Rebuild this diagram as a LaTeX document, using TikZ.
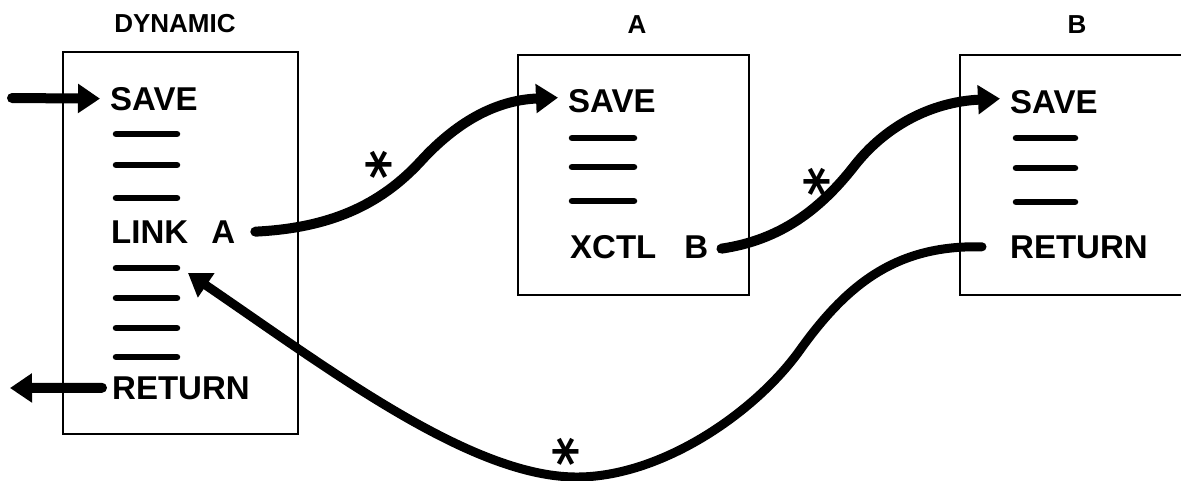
\documentclass[tikz,border=0pt]{standalone}
\usepackage{fontspec}
\setmainfont{Liberation Sans}
\newfontfamily\starfont{DejaVu Sans}
\usetikzlibrary{arrows.meta,calc}
\begin{document}
\begin{tikzpicture}[x=1pt,y=-1pt,
  lbl/.style={font=\bfseries\fontsize{33}{33}\selectfont, inner sep=0pt, anchor=base west},
  ttl/.style={font=\bfseries\fontsize{26}{26}\selectfont, inner sep=0pt, anchor=base},
  boxframe/.style={draw, line width=2.5pt, inner sep=0pt},
  dashbar/.style={line width=6.5pt, line cap=round},
  flowarrow/.style={line width=10pt, line cap=round, -{Triangle[length=22pt,width=28pt]}},
  starlbl/.style={font=\starfont\bfseries\fontsize{56}{56}\selectfont, inner sep=0pt, rotate=90},
]
\useasboundingbox (0,0) rectangle (1181,480);
\clip (0,0) rectangle (1181,480);

% boxes
\node[boxframe, minimum width=235pt, minimum height=382pt] (boxD) at (180.5,243) {};
\node[boxframe, minimum width=231pt, minimum height=240pt] (boxA) at (633.5,175) {};
\node[boxframe, minimum width=240pt, minimum height=240pt] (boxB) at (1080,175) {};

% titles
\node[ttl] (tD) at (175,32) {DYNAMIC};
\node[ttl] (tA) at (637,33) {A};
\node[ttl] (tB) at (1077,33) {B};

% DYNAMIC contents
\node[lbl] (saveD) at (110,110) {SAVE};
\node[lbl] (linkA) at (111,243) {LINK\hspace{0.7em}A};
\node[lbl] (retD) at (112,399) {RETURN};
\foreach \yy in {134,165,198,268,298,328,357}
  \draw[dashbar] (116,\yy) -- (177,\yy);

% A contents
\node[lbl] (saveA) at (568,112) {SAVE};
\node[lbl] (xctlB) at (570,258) {XCTL\hspace{0.85em}B};
\foreach \yy in {138,167,201}
  \draw[dashbar] (572,\yy) -- (634,\yy);

% B contents
\node[lbl] (saveB) at (1010,113) {SAVE};
\node[lbl] (retB) at (1010,258) {RETURN};
\foreach \yy in {138,168,202}
  \draw[dashbar] (1016,\yy) -- (1075,\yy);

% entry / exit
\coordinate (inD) at (12,98);
\coordinate (outD) at (10,388);
\coordinate (backD) at (188,273);
\draw[flowarrow] (inD) -- ([xshift=-10pt]saveD.west);
\draw[flowarrow] ([xshift=-10pt]retD.west) -- (outD);

% LINK A -> SAVE (A)
\draw[flowarrow] ([xshift=20pt]linkA.east) .. controls (330,228) and (380,205) .. (420,162)
   .. controls (460,118) and (500,100) .. ([xshift=-10pt,yshift=3pt]saveA.west);
% XCTL B -> SAVE (B)
\draw[flowarrow] ([xshift=13pt,yshift=-2pt]xctlB.east) .. controls (780,240) and (820,210) .. (855,165)
   .. controls (885,127) and (930,102) .. ([xshift=-10pt,yshift=3pt]saveB.west);
% RETURN (B) -> DYNAMIC
\draw[flowarrow, line width=9pt] ([xshift=-28pt]retB.west) .. controls (900,245) and (850,280) .. (800,350)
   .. controls (755,413) and (660,478) .. (575,477)
   .. controls (470,476) and (330,370) .. (backD);

% stars
\node[starlbl] (s1) at (387,165) {*};
\node[starlbl] (s2) at (825,182) {*};
\node[starlbl] (s3) at (574,452) {*};
\end{tikzpicture}
\end{document}
